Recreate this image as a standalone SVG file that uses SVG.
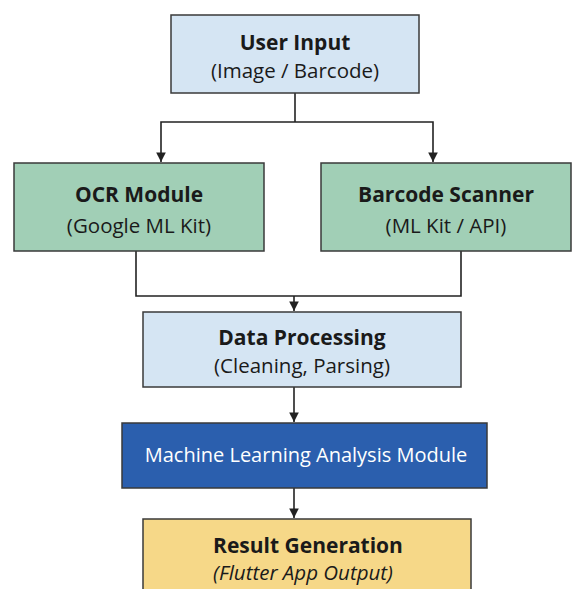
<svg xmlns="http://www.w3.org/2000/svg" width="584" height="589" viewBox="0 0 584 589">
<defs>
<style>
.box{stroke:#3a3a3a;stroke-width:1.5}
.t{font-family:"Open Sans","Noto Sans",sans-serif;font-weight:700;font-size:21px;fill:#1a1a1a;text-anchor:middle}
.s{font-family:"Open Sans","Noto Sans",sans-serif;font-size:20.5px;fill:#1a1a1a;text-anchor:middle}
.w{font-family:"Open Sans","Noto Sans",sans-serif;font-size:20px;fill:#ffffff;text-anchor:middle}
.c{fill:none;stroke:#222;stroke-width:1.6}
</style>
<marker id="ah" viewBox="0 0 10 10" refX="10" refY="5" markerWidth="6" markerHeight="6" orient="auto" markerUnits="strokeWidth">
<path d="M0,0 L10,5 L0,10 z" fill="#222"/>
</marker>
</defs>
<rect width="584" height="589" fill="#ffffff"/>
<g id="connectors">
<path class="c" d="M295,93 V122"/>
<path class="c" d="M295,122 H161 V162" marker-end="url(#ah)"/>
<path class="c" d="M295,122 H433 V162" marker-end="url(#ah)"/>
<path class="c" d="M136,251 V296 H461 V251"/>
<path class="c" d="M294,296 V311" marker-end="url(#ah)"/>
<path class="c" d="M294,387 V422" marker-end="url(#ah)"/>
<path class="c" d="M294,488 V518" marker-end="url(#ah)"/>
</g>
<g id="user-input">
<rect class="box" x="171" y="15" width="248" height="78" fill="#d5e5f3"/>
<text class="t" x="295" y="50">User Input</text>
<text class="s" x="295" y="78">(Image / Barcode)</text>
</g>
<g id="ocr">
<rect class="box" x="14" y="163" width="250" height="88" fill="#a1cfb6"/>
<text class="t" x="139" y="202">OCR Module</text>
<text class="s" x="139" y="233">(Google ML Kit)</text>
</g>
<g id="barcode">
<rect class="box" x="321" y="163" width="250" height="88" fill="#a1cfb6"/>
<text class="t" x="446" y="202">Barcode Scanner</text>
<text class="s" x="446" y="233">(ML Kit / API)</text>
</g>
<g id="data-processing">
<rect class="box" x="143" y="312" width="318" height="75" fill="#d5e5f3"/>
<text class="t" x="302" y="345">Data Processing</text>
<text class="s" x="302" y="373">(Cleaning, Parsing)</text>
</g>
<g id="ml">
<rect class="box" x="122" y="423" width="365" height="65" fill="#2b5fae"/>
<text class="w" x="306" y="462">Machine Learning Analysis Module</text>
</g>
<g id="result">
<rect class="box" x="143" y="519" width="328" height="80" fill="#f6d888"/>
<text class="t" x="308" y="553">Result Generation</text>
<text class="s" x="303" y="580" font-style="italic">(Flutter App Output)</text>
</g>
</svg>
